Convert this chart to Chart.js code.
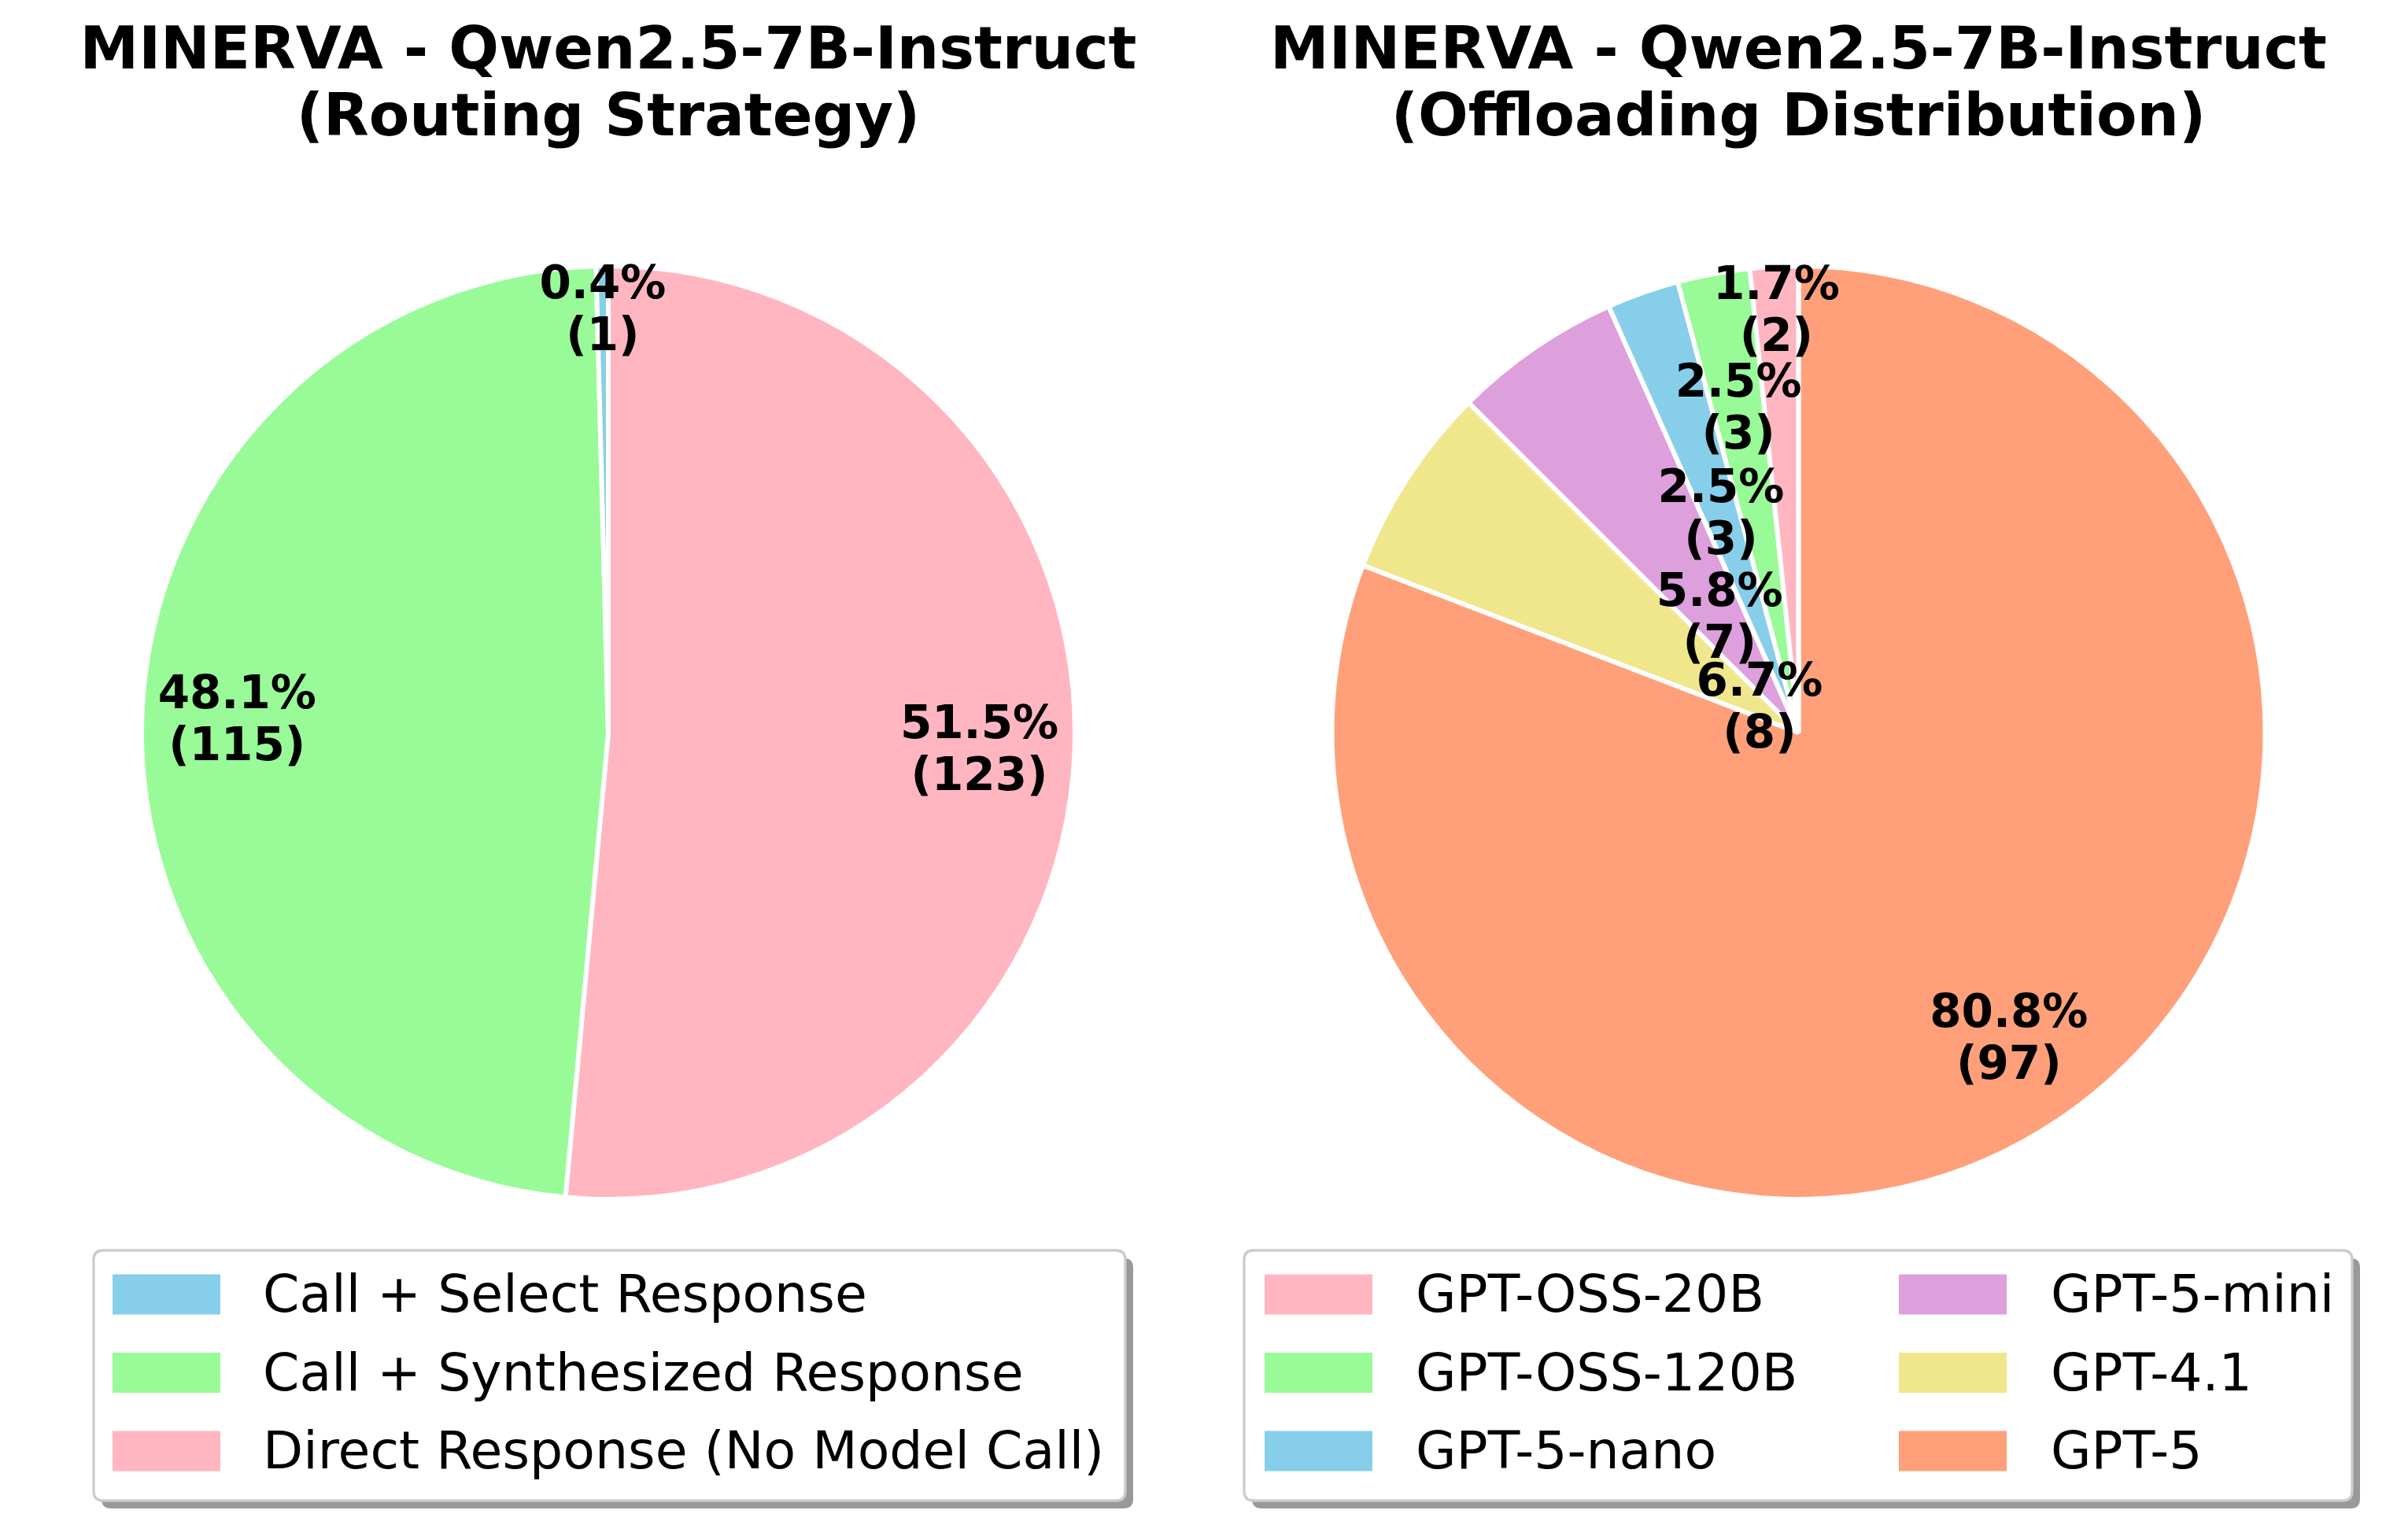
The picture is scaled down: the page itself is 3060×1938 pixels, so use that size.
<!DOCTYPE html>
<html>
<head>
<meta charset="utf-8">
<script src="https://cdn.jsdelivr.net/npm/chart.js@4.4.0/dist/chart.umd.min.js"></script>
<style>
  body { margin: 0; background: #fff; }
  #wrap { position: relative; width: 3060px; height: 1938px; }
  canvas { position: absolute; top: 0; }
</style>
</head>
<body>
<div id="wrap">
  <canvas id="routing" width="1530" height="1938" style="left:0"></canvas>
  <canvas id="offload" width="1530" height="1938" style="left:1530px"></canvas>
</div>
<script>
// Routing strategy (left pie)
const routingLabels = ['Call + Select Response', 'Call + Synthesized Response', 'Direct Response (No Model Call)'];
const routingCounts = [1, 115, 123];
const routingColors = ['#87CEEB', '#98FB98', '#FFB6C1'];
const routingLabelDist = [0.91, 0.8, 0.8];

// Offloading distribution (right pie)
const offloadLabels = ['GPT-OSS-20B', 'GPT-OSS-120B', 'GPT-5-nano', 'GPT-5-mini', 'GPT-4.1', 'GPT-5'];
const offloadCounts = [2, 3, 3, 7, 8, 97];
const offloadColors = ['#FFB6C1', '#98FB98', '#87CEEB', '#DDA0DD', '#F0E68C', '#FFA07A'];
const offloadLabelDist = [0.91, 0.71, 0.5, 0.3, 0.1, 0.8];

const FONT = "'DejaVu Sans', sans-serif";

function roundRect(ctx, x, y, w, h, r) {
    ctx.beginPath();
    ctx.moveTo(x + r, y);
    ctx.lineTo(x + w - r, y);
    ctx.quadraticCurveTo(x + w, y, x + w, y + r);
    ctx.lineTo(x + w, y + h - r);
    ctx.quadraticCurveTo(x + w, y + h, x + w - r, y + h);
    ctx.lineTo(x + r, y + h);
    ctx.quadraticCurveTo(x, y + h, x, y + h - r);
    ctx.lineTo(x, y + r);
    ctx.quadraticCurveTo(x, y, x + r, y);
    ctx.closePath();
}

// title, legend box and slice labels drawn by one plugin per chart
function makeDecor(cfg) {
    return {
        id: 'pieDecor',
        beforeDraw(chart) {
            const ctx = chart.ctx;
            const area = chart.chartArea;
            const cx = (area.left + area.right) / 2;
            ctx.save();
            // title
            ctx.fillStyle = '#000';
            ctx.font = 'bold 75px ' + FONT;
            ctx.textAlign = 'center';
            ctx.textBaseline = 'alphabetic';
            cfg.title.forEach((line, i) => ctx.fillText(line, cx, 87 + i * 85));

            // legend frame with shadow
            const b = cfg.legendBox;
            roundRect(ctx, b.x + 10, b.y + 10, b.w, b.h, 12);
            ctx.fillStyle = 'rgba(0,0,0,0.4)';
            ctx.fill();
            roundRect(ctx, b.x, b.y, b.w, b.h, 12);
            ctx.fillStyle = '#ffffff';
            ctx.fill();
            ctx.strokeStyle = '#cccccc';
            ctx.lineWidth = 3.3;
            ctx.stroke();

            // legend entries, column-major, 3 rows
            ctx.font = '66.5px ' + FONT;
            ctx.textAlign = 'left';
            ctx.textBaseline = 'middle';
            cfg.labels.forEach((label, i) => {
                const col = Math.floor(i / 3);
                const row = i % 3;
                const y = 1645 + row * 99.5;
                ctx.fillStyle = cfg.colors[i];
                ctx.fillRect(cfg.patchX[col], y - 25.5, 137, 51);
                ctx.fillStyle = '#000';
                ctx.fillText(label, cfg.textX[col], y + 5);
            });
            ctx.restore();
        },
        afterDatasetsDraw(chart) {
            const ctx = chart.ctx;
            const meta = chart.getDatasetMeta(0);
            const values = chart.data.datasets[0].data;
            const total = values.reduce((a, v) => a + v, 0);
            const n = values.length;
            ctx.save();
            ctx.fillStyle = '#000';
            ctx.font = 'bold 58px ' + FONT;
            ctx.textAlign = 'center';
            ctx.textBaseline = 'alphabetic';
            meta.data.forEach((arc, j) => {
                const orig = n - 1 - j; // data is reversed for clockwise drawing
                const p = arc.getProps(['x', 'y', 'startAngle', 'endAngle', 'outerRadius'], true);
                const mid = (p.startAngle + p.endAngle) / 2;
                const d = cfg.dist[orig] * 590;
                const x = p.x + Math.cos(mid) * d;
                const y = p.y + Math.sin(mid) * d;
                const pct = (values[j] / total * 100).toFixed(1) + '%';
                ctx.fillText(pct, x, y - 15);
                ctx.fillText('(' + values[j] + ')', x, y + 51);
            });
            ctx.restore();
        }
    };
}

function makePie(id, labels, counts, colors, dist, cfg) {
    // matplotlib draws counter-clockwise from the top; Chart.js goes clockwise, so reverse
    const order = labels.map((_, i) => i).reverse();
    cfg.labels = labels;
    cfg.colors = colors;
    cfg.dist = dist;
    return new Chart(document.getElementById(id), {
        type: 'pie',
        data: {
            labels: order.map(i => labels[i]),
            datasets: [{
                data: order.map(i => counts[i]),
                backgroundColor: order.map(i => colors[i]),
                borderColor: '#ffffff',
                borderWidth: 6
            }]
        },
        options: {
            responsive: false,
            animation: false,
            devicePixelRatio: 1,
            layout: { padding: cfg.padding },
            plugins: {
                legend: { display: false },
                title: { display: false },
                tooltip: { enabled: false }
            }
        },
        plugins: [makeDecor(cfg)]
    });
}

makePie('routing', routingLabels, routingCounts, routingColors, routingLabelDist, {
    title: ['MINERVA - Qwen2.5-7B-Instruct', '(Routing Strategy)'],
    padding: { left: 177, top: 335, right: 161, bottom: 411 },
    legendBox: { x: 119, y: 1589, w: 1311, h: 318 },
    patchX: [143],
    textX: [334]
});

makePie('offload', offloadLabels, offloadCounts, offloadColors, offloadLabelDist, {
    title: ['MINERVA - Qwen2.5-7B-Instruct', '(Offloading Distribution)'],
    padding: { left: 159.5, top: 335, right: 178.5, bottom: 411 },
    legendBox: { x: 51, y: 1589, w: 1408, h: 318 },
    patchX: [77, 883],
    textX: [269, 1076]
});
</script>
</body>
</html>
